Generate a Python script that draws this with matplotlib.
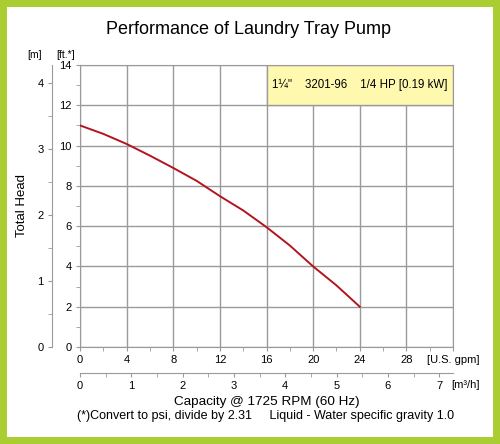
import matplotlib.pyplot as plt
from matplotlib.patches import Rectangle
from matplotlib.ticker import MultipleLocator

plt.rcParams['font.family'] = ['Liberation Sans', 'DejaVu Sans']

# pump curve
flow_gpm = [0, 2, 4, 6, 8, 10, 12, 14, 16, 18, 20, 22, 24]
head_ft = [11.0, 10.58, 10.08, 9.5, 8.89, 8.25, 7.49, 6.78, 5.95, 5.04, 4.0, 3.06, 2.0]

gpm_ticks = [0, 4, 8, 12, 16, 20, 24, 28, 32]
gpm_labels = ['0', '4', '8', '12', '16', '20', '24', '28', '[U.S. gpm]']
ft_ticks = [0, 2, 4, 6, 8, 10, 12, 14]
m_ticks = [0, 1, 2, 3, 4]
m3h_ticks = [0, 1, 2, 3, 4, 5, 6, 7]
legend_text = '1\u00bc"    3201-96    1/4 HP [0.19 kW]'

FT_PER_M = 3.281
GPM_PER_M3H = 4.403
W, H = 500, 444
grid_c = '#9a9a9a'
green = '#aacd32'

fig = plt.figure(figsize=(W / 100, H / 100), dpi=100, facecolor=green)
fig.patches.append(Rectangle((7 / W, 7 / H), 486 / W, 430 / H, transform=fig.transFigure,
                             facecolor='white', edgecolor='none', zorder=-5))

ax = fig.add_axes([80 / W, (H - 347) / H, 373 / W, 282 / H])
ax.set_xlim(0, 32)
ax.set_ylim(0, 14)
ax.set_facecolor('white')
for s in ax.spines.values():
    s.set_color(grid_c)

ax.set_xticks(gpm_ticks)
ax.set_xticklabels(gpm_labels)
ax.xaxis.set_minor_locator(MultipleLocator(2))
ax.set_yticks(ft_ticks)
ax.yaxis.set_minor_locator(MultipleLocator(1))
ax.tick_params(which='both', length=3, color=grid_c, labelsize=8, pad=3)
ax.grid(True, which='major', color=grid_c, linewidth=1)
ax.set_axisbelow(True)

# model box
ax.add_patch(Rectangle((16, 12), 16, 2, facecolor='#fff9b0', edgecolor=grid_c,
                       linewidth=1, zorder=2))
ax.text(24, 13, legend_text, ha='center', va='center', fontsize=8.3, zorder=3)

ax.plot(flow_gpm, head_ft, color='#b3141e', linewidth=1.4, zorder=4)

# metre axis on the far left
sec_y = ax.secondary_yaxis(-28 / 373, functions=(lambda f: f / FT_PER_M, lambda m: m * FT_PER_M))
sec_y.set_yticks(m_ticks)
sec_y.yaxis.set_minor_locator(MultipleLocator(0.5))
sec_y.tick_params(which='both', length=3, color=grid_c, labelsize=8, pad=3)
sec_y.spines['left'].set_color(grid_c)

# m3/h axis below
sec_x = ax.secondary_xaxis(-26 / 282, functions=(lambda g: g / GPM_PER_M3H, lambda q: q * GPM_PER_M3H))
sec_x.set_xticks(m3h_ticks)
sec_x.xaxis.set_minor_locator(MultipleLocator(0.5))
sec_x.tick_params(which='both', length=3, color=grid_c, labelsize=8, pad=3)
sec_x.spines['bottom'].set_color(grid_c)

fig.text(466 / W, 1 - 385 / H, '[m\u00b3/h]', ha='center', va='center', fontsize=8)
fig.text(35 / W, 1 - 55 / H, '[m]', ha='center', va='center', fontsize=7.5)
fig.text(66 / W, 1 - 55 / H, '[ft.*]', ha='center', va='center', fontsize=7.5)
fig.text(22 / W, 1 - 205 / H, 'Total Head', rotation=90, ha='center', va='center', fontsize=9.5)
fig.text(248 / W, 1 - 30 / H, 'Performance of Laundry Tray Pump', ha='center', va='center',
         fontsize=13)
fig.text(267 / W, 1 - 402 / H, 'Capacity @ 1725 RPM (60 Hz)', ha='center', va='center', fontsize=9.7)
fig.text(266 / W, 1 - 416 / H, '(*)Convert to psi, divide by 2.31     Liquid - Water specific gravity 1.0',
         ha='center', va='center', fontsize=9)

fig.savefig('out.png', dpi=100, facecolor=green)
